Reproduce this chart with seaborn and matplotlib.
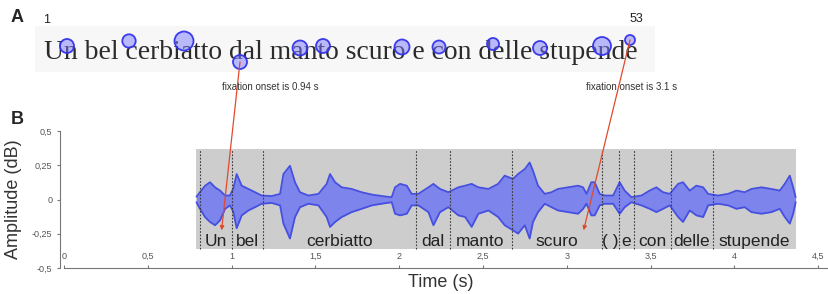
import numpy as np
import pandas as pd
import matplotlib
matplotlib.use("Agg")
import matplotlib.pyplot as plt
from matplotlib.patches import Rectangle, ConnectionPatch
import seaborn as sns

# ---------------- data ----------------
sentence = "Un bel cerbiatto dal manto scuro e con delle stupende"
words = ["Un", "bel", "cerbiatto", "dal", "manto", "scuro", "( )", "e", "con", "delle", "stupende"]
word_onsets = [0.81, 1.00, 1.19, 2.10, 2.30, 2.67, 3.21, 3.31, 3.40, 3.62, 3.87]
speech_start, speech_end = 0.79, 4.37

# waveform envelope (time in s, upper / lower amplitude)
wave_t = [0.79, 0.811, 0.841, 0.871, 0.901, 0.931, 0.961, 0.990, 1.010, 1.030, 1.060, 1.100,
          1.140, 1.179, 1.239, 1.289, 1.309, 1.348, 1.378, 1.408, 1.458, 1.518, 1.567, 1.587,
          1.617, 1.657, 1.716, 1.776, 1.836, 1.915, 1.955, 1.975, 2.005, 2.045, 2.074, 2.114,
          2.174, 2.204, 2.243, 2.293, 2.353, 2.393, 2.432, 2.472, 2.532, 2.590, 2.629, 2.679,
          2.709, 2.749, 2.778, 2.798, 2.828, 2.868, 2.908, 2.947, 3.007, 3.067, 3.097, 3.117,
          3.146, 3.166, 3.196, 3.226, 3.276, 3.315, 3.345, 3.385, 3.445, 3.494, 3.534, 3.574,
          3.614, 3.664, 3.693, 3.733, 3.773, 3.813, 3.843, 3.902, 3.962, 4.012, 4.061, 4.101,
          4.161, 4.220, 4.270, 4.300, 4.330, 4.350, 4.365]
wave_up = [0.020, 0.053, 0.100, 0.126, 0.089, 0.065, 0.029, 0.029, 0.080, 0.186, 0.101, 0.077,
           0.053, 0.029, 0.025, 0.041, 0.186, 0.246, 0.126, 0.053, 0.029, 0.041, 0.114, 0.186,
           0.126, 0.089, 0.077, 0.053, 0.036, 0.022, 0.017, 0.089, 0.114, 0.101, 0.041, 0.041,
           0.089, 0.114, 0.077, 0.053, 0.089, 0.101, 0.114, 0.089, 0.077, 0.114, 0.174, 0.150,
           0.186, 0.222, 0.270, 0.210, 0.101, 0.041, 0.053, 0.077, 0.089, 0.101, 0.089, 0.041,
           0.126, 0.126, 0.041, 0.029, 0.029, 0.126, 0.065, 0.017, 0.029, 0.065, 0.089, 0.053,
           0.041, 0.114, 0.126, 0.065, 0.101, 0.089, 0.041, 0.029, 0.041, 0.065, 0.053, 0.077,
           0.089, 0.077, 0.065, 0.114, 0.174, 0.089, 0.017]
wave_lo = [-0.020, -0.068, -0.128, -0.164, -0.188, -0.152, -0.068, -0.043, -0.090, -0.210, -0.116, -0.080,
           -0.056, -0.031, -0.025, -0.043, -0.176, -0.285, -0.128, -0.056, -0.031, -0.043, -0.128, -0.200,
           -0.164, -0.128, -0.092, -0.068, -0.043, -0.027, -0.020, -0.104, -0.116, -0.104, -0.043, -0.043,
           -0.092, -0.188, -0.092, -0.056, -0.116, -0.128, -0.200, -0.104, -0.080, -0.128, -0.188, -0.225,
           -0.249, -0.188, -0.285, -0.164, -0.092, -0.031, -0.056, -0.080, -0.092, -0.104, -0.068, -0.031,
           -0.116, -0.116, -0.043, -0.031, -0.031, -0.104, -0.056, -0.020, -0.043, -0.068, -0.092, -0.068,
           -0.043, -0.128, -0.164, -0.080, -0.116, -0.128, -0.043, -0.031, -0.043, -0.068, -0.056, -0.092,
           -0.104, -0.092, -0.068, -0.128, -0.176, -0.104, -0.020]

# fixations on the screen (pixel position of fixation, radius ~ duration)
fix_x = [67, 129, 184, 240, 300, 323, 402, 439, 493, 540, 602, 630]
fix_y = [46, 41, 41, 62, 48, 46, 47, 47, 44, 48, 46, 40]
fix_r = [7.0, 6.7, 9.5, 7.0, 7.5, 7.0, 7.5, 6.5, 6.0, 7.0, 9.0, 5.0]
fix_labels = {0: "1", 11: "53"}
highlight_fix = [3, 11]          # fixations linked to the audio
onset_times = [0.94, 3.1]
onset_texts = ["fixation onset is 0.94 s", "fixation onset is 3.1 s"]

xticks = [0, 0.5, 1, 1.5, 2, 2.5, 3, 3.5, 4, 4.5]
xticklabels = ["0", "0,5", "1", "1,5", "2", "2,5", "3", "3,5", "4", "4,5"]
yticks = [0.5, 0.25, 0, -0.25, -0.5]
yticklabels = ["0,5", "0,25", "0", "-0,25", "-0,5"]

# ---------------- figure ----------------
sns.set_style("white")
plt.rcParams["font.family"] = ["Liberation Sans", "DejaVu Sans"]

W, H = 829, 294
fig = plt.figure(figsize=(W / 100, H / 100), dpi=100)

# overlay in pixel coordinates for panel A
ov = fig.add_axes([0, 0, 1, 1])
ov.set_xlim(0, W)
ov.set_ylim(H, 0)
ov.axis("off")

ov.add_patch(Rectangle((35, 26), 620, 46, facecolor="#f7f7f7", edgecolor="none", zorder=0))
ov.text(44, 59, sentence, family=["Liberation Serif", "DejaVu Serif"], fontsize=19.9,
        color="#2b2b2b", va="baseline", ha="left", zorder=1)

fix_df = pd.DataFrame({"x": fix_x, "y": fix_y, "r": fix_r})
size_map = {r: (1.44 * r) ** 2 for r in sorted(set(fix_r))}
sns.scatterplot(data=fix_df, x="x", y="y", size="r", sizes=size_map, ax=ov, legend=False,
                color=(0.50, 0.50, 1.0), linewidth=1.3, zorder=3)
pts = ov.collections[-1]
pts.set_facecolor((0.48, 0.48, 1.0, 0.5))
pts.set_edgecolor((0.2, 0.2, 0.92, 0.95))
for i, lab in fix_labels.items():
    ov.text(fix_x[i] + (-20 if i == 0 else 6), fix_y[i] - (26 if i == 0 else 21), lab,
            fontsize=9, color="#222222", ha="center", va="center")
ov.set_xlim(0, W)
ov.set_ylim(H, 0)
ov.axis("off")

for i, txt in zip(highlight_fix, onset_texts):
    ov.text(fix_x[i] + (30 if i == 3 else 2), 87, txt, fontsize=7, color="#333333",
            ha="center", va="center")

fig.text(17 / W, 1 - 18 / H, "A", fontsize=13, fontweight="bold", ha="center", va="center")
fig.text(17 / W, 1 - 120 / H, "B", fontsize=13, fontweight="bold", ha="center", va="center")

# panel B
x_left, x_right = -0.024, 4.564
ax = fig.add_axes([60 / W, (H - 268) / H, (W - 60) / W, 137 / H])
ax.patch.set_alpha(0)
ax.set_xlim(x_left, x_right)
ax.set_ylim(-0.5, 0.5)

ax.add_patch(Rectangle((speech_start, -0.36), speech_end - speech_start, 0.73,
                       facecolor="#cdcdcd", edgecolor="none", zorder=0))

wave_df = pd.DataFrame({"t": wave_t, "up": wave_up, "lo": wave_lo})
ax.fill_between(wave_df["t"], wave_df["lo"], wave_df["up"], color="#7d84ec", lw=0, zorder=2)
sns.lineplot(data=wave_df, x="t", y="up", ax=ax, color="#4650e0", lw=1.3, zorder=3)
sns.lineplot(data=wave_df, x="t", y="lo", ax=ax, color="#4650e0", lw=1.3, zorder=3)

ends = word_onsets[1:] + [speech_end]
for on, off, w in zip(word_onsets, ends, words):
    ax.plot([on, on], [-0.36, 0.37], ls=(0, (1.5, 1.5)), color="#3a3a3a", lw=0.8, zorder=4)
    ax.text((on + off) / 2, -0.305, w, fontsize=12.5, color="#222222",
            ha="center", va="center", zorder=5)

for s in ["top", "right"]:
    ax.spines[s].set_visible(False)
for s in ["left", "bottom"]:
    ax.spines[s].set_color("#777777")
    ax.spines[s].set_linewidth(0.8)
ax.spines["bottom"].set_bounds(0, x_right)

ax.set_xticks(xticks)
ax.set_xticklabels(xticklabels)
ax.set_yticks(yticks)
ax.set_yticklabels(yticklabels)
ax.tick_params(axis="x", direction="in", length=2.5, pad=-11.5, labelsize=6.5,
               colors="#777777", labelcolor="#555555", bottom=True)
ax.tick_params(axis="y", direction="out", length=2.5, pad=3, labelsize=6.5,
               colors="#777777", labelcolor="#555555", left=True)
ax.set_xlabel("Time (s)", fontsize=13, color="#333333")
ax.set_ylabel("Amplitude (dB)", fontsize=13, color="#333333")
ax.xaxis.set_label_coords(0.495, -0.045)
ax.yaxis.set_label_coords(-0.05, 0.5)

# arrows from fixations down to the waveform
for i, t_on in zip(highlight_fix, onset_times):
    con = ConnectionPatch(xyA=(fix_x[i], fix_y[i]), coordsA=ov.transData,
                          xyB=(t_on, -0.225), coordsB=ax.transData,
                          arrowstyle="-|>", mutation_scale=6, color="#e2492f", lw=0.9,
                          zorder=10)
    fig.add_artist(con)

fig.savefig("out.png", dpi=100)
